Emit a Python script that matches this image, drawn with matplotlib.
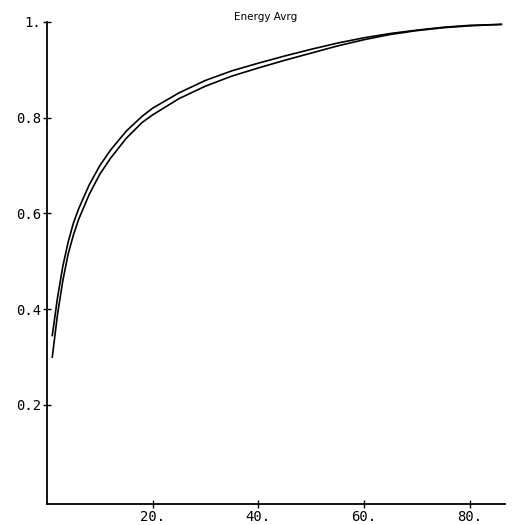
import matplotlib
matplotlib.use("Agg")
import matplotlib.pyplot as plt

x_vals = [1, 2, 3, 4, 5, 6, 8, 10, 12, 15, 18, 20, 25, 30, 35, 40, 45, 50, 55, 60, 65, 70, 75, 80, 86]
upper = [0.345, 0.425, 0.49, 0.54, 0.58, 0.61, 0.66, 0.70, 0.732, 0.772, 0.803, 0.82, 0.852, 0.878, 0.898,
         0.914, 0.929, 0.943, 0.956, 0.967, 0.976, 0.983, 0.989, 0.993, 0.995]
lower = [0.30, 0.39, 0.46, 0.515, 0.555, 0.588, 0.64, 0.682, 0.715, 0.757, 0.79, 0.806, 0.84, 0.866, 0.887,
         0.904, 0.92, 0.935, 0.95, 0.963, 0.974, 0.982, 0.988, 0.992, 0.995]

x_ticks = [20, 40, 60, 80]
x_tick_labels = ["20.", "40.", "60.", "80."]
y_ticks = [0.2, 0.4, 0.6, 0.8, 1.0]
y_tick_labels = ["0.2", "0.4", "0.6", "0.8", "1."]
title = "Energy Avrg"

fig = plt.figure(figsize=(5.15, 5.25), dpi=100)
ax = fig.add_axes([47/515, 21/525, 458/515, 482/525])
ax.plot(x_vals, upper, color="black", lw=1.2)
ax.plot(x_vals, lower, color="black", lw=1.2)
ax.set_xlim(0, 86.7)
ax.set_ylim(-0.007, 1.0)
for s in ["top", "right"]:
    ax.spines[s].set_visible(False)
for s in ["left", "bottom"]:
    ax.spines[s].set_linewidth(1.3)
ax.set_xticks(x_ticks)
ax.set_xticklabels(x_tick_labels)
ax.set_yticks(y_ticks)
ax.set_yticklabels(y_tick_labels)
ax.tick_params(direction="inout", length=6, width=1.0, pad=1, labelsize=10)
for lab in ax.get_xticklabels() + ax.get_yticklabels():
    lab.set_family("DejaVu Sans Mono")
ax.text(234/515, 1 - 17/525, title, transform=fig.transFigure, ha="left", va="center",
        fontsize=7.5, family="DejaVu Sans")
fig.savefig("out.png", dpi=100)
